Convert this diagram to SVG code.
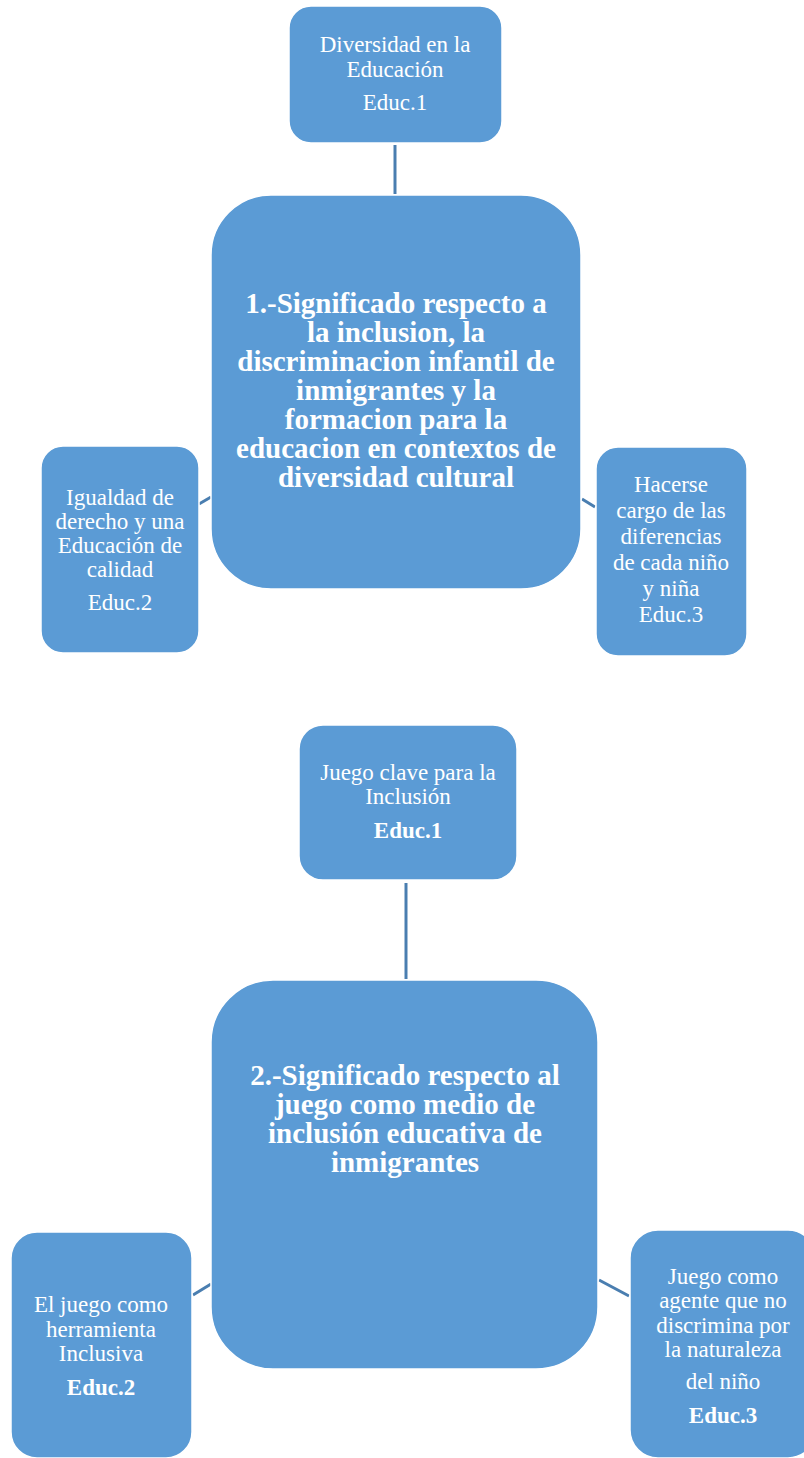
<svg xmlns="http://www.w3.org/2000/svg" width="804" height="1458" viewBox="0 0 804 1458">
<style>
.box{fill:#5B9BD5;stroke:#ffffff;stroke-width:1.5}
.t{font-family:"Liberation Serif","Times New Roman",serif;fill:#ffffff;text-anchor:middle}
.s{font-size:23px}
.b{font-size:29px;font-weight:bold}
.sb{font-size:23px;font-weight:bold}
.c{stroke:#4A7EB0;stroke-width:3;fill:none}
</style>
<rect width="804" height="1458" fill="#ffffff"/>
<g id="connectors">
<line class="c" x1="395" y1="145" x2="395" y2="194"/>
<line class="c" x1="199" y1="504" x2="211" y2="497"/>
<line class="c" x1="582" y1="499" x2="595" y2="507"/>
<line class="c" x1="406" y1="883" x2="406" y2="979"/>
<line class="c" x1="193" y1="1295" x2="211" y2="1284"/>
<line class="c" x1="599" y1="1280" x2="629" y2="1296"/>
</g>
<g id="n1">
<rect class="box" x="289" y="6" width="213" height="137" rx="22"/>
<text class="t s"><tspan x="395" y="52">Diversidad en la</tspan><tspan x="395" y="77">Educación</tspan><tspan x="395" y="110">Educ.1</tspan></text>
</g>
<g id="c1">
<rect class="box" x="211" y="195" width="370" height="394" rx="60"/>
<text class="t b"><tspan x="396" y="313">1.-Significado respecto a</tspan><tspan x="396" y="342">la inclusion, la</tspan><tspan x="396" y="371">discriminacion infantil de</tspan><tspan x="396" y="400">inmigrantes y la</tspan><tspan x="396" y="429">formacion para la</tspan><tspan x="396" y="458">educacion en contextos de</tspan><tspan x="396" y="487">diversidad cultural</tspan></text>
</g>
<g id="n2">
<rect class="box" x="41" y="446" width="158" height="207" rx="22"/>
<text class="t s"><tspan x="120" y="505">Igualdad de</tspan><tspan x="120" y="529">derecho y una</tspan><tspan x="120" y="553">Educación de</tspan><tspan x="120" y="577">calidad</tspan><tspan x="120" y="610">Educ.2</tspan></text>
</g>
<g id="n3">
<rect class="box" x="596" y="447" width="151" height="209" rx="22"/>
<text class="t s"><tspan x="671" y="492">Hacerse</tspan><tspan x="671" y="518">cargo de las</tspan><tspan x="671" y="544">diferencias</tspan><tspan x="671" y="570">de cada niño</tspan><tspan x="671" y="596">y niña</tspan><tspan x="671" y="622">Educ.3</tspan></text>
</g>
<g id="n4">
<rect class="box" x="299" y="725" width="218" height="155" rx="24"/>
<text class="t s"><tspan x="408" y="780">Juego clave para la</tspan><tspan x="408" y="804">Inclusión</tspan></text>
<text class="t sb" x="408" y="838">Educ.1</text>
</g>
<g id="c2">
<rect class="box" x="211" y="980" width="387" height="389" rx="62"/>
<text class="t b"><tspan x="405" y="1085">2.-Significado respecto al</tspan><tspan x="405" y="1114">juego como medio de</tspan><tspan x="405" y="1143">inclusión educativa de</tspan><tspan x="405" y="1172">inmigrantes</tspan></text>
</g>
<g id="n5">
<rect class="box" x="11" y="1232" width="181" height="226" rx="26"/>
<text class="t s"><tspan x="101" y="1312">El juego como</tspan><tspan x="101" y="1337">herramienta</tspan><tspan x="101" y="1361">Inclusiva</tspan></text>
<text class="t sb" x="101" y="1395">Educ.2</text>
</g>
<g id="n6">
<rect class="box" x="630" y="1230" width="186" height="228" rx="28"/>
<text class="t s"><tspan x="723" y="1284">Juego como</tspan><tspan x="723" y="1308">agente que no</tspan><tspan x="723" y="1333">discrimina por</tspan><tspan x="723" y="1357">la naturaleza</tspan><tspan x="723" y="1389">del niño</tspan></text>
<text class="t sb" x="723" y="1423">Educ.3</text>
</g>
</svg>
